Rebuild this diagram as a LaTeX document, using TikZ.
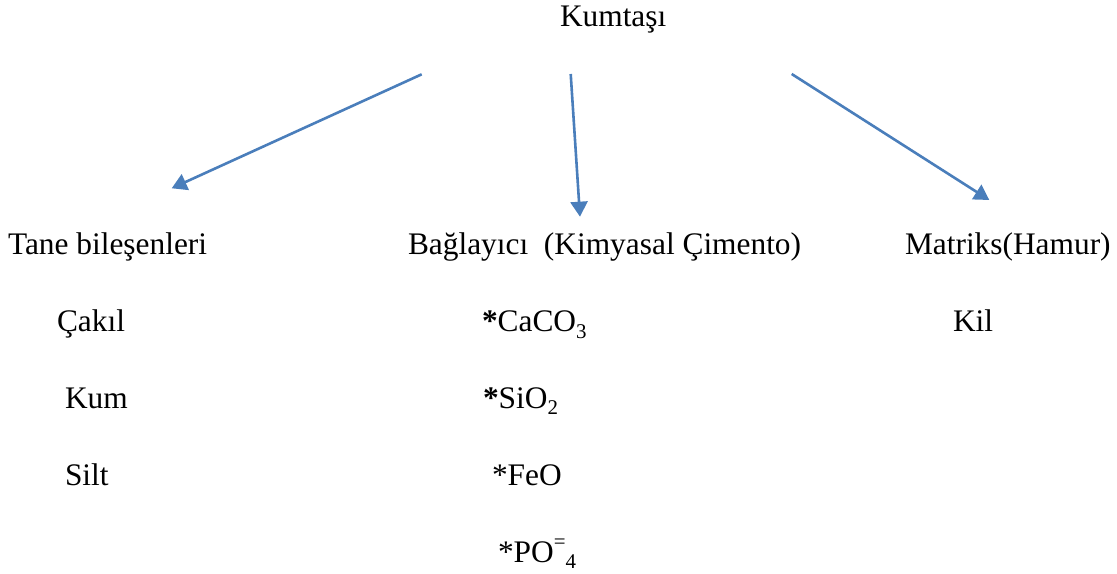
\documentclass[tikz,border=0pt]{standalone}
\usepackage{fontspec}
\setmainfont{Liberation Serif}
\usetikzlibrary{arrows.meta}
\definecolor{arrowblue}{HTML}{4A7EBB}
\newcommand{\subs}[1]{\raisebox{-0.22em}{\fontsize{21}{21}\selectfont #1}}
\newcommand{\sups}[1]{\raisebox{0.42em}{\fontsize{21}{21}\selectfont #1}}
\tikzset{
  lbl/.style={anchor=base west, inner sep=0pt, outer sep=0pt, font=\fontsize{31.5}{36}\selectfont},
  arr/.style={draw=arrowblue, line width=2.6bp, -{Triangle[width=17bp,length=15bp]}, arrowblue}
}
\begin{document}
\begin{tikzpicture}[x=1bp,y=-1bp]
\useasboundingbox (0,0) rectangle (1117,574);
\node[lbl] (top) at (560,27) {Kumtaşı};
\node[lbl] (tane) at (8,255) {Tane bileşenleri};
\node[lbl] (bag) at (408,255) {Bağlayıcı\ \ (Kimyasal Çimento)};
\node[lbl] (mat) at (905,255) {Matriks(Hamur)};
\node[lbl] (cakil) at (57,332) {Çakıl};
\node[lbl] (kum) at (65,408) {Kum};
\node[lbl] (silt) at (65,485) {Silt};
\node[lbl] (kil) at (953,332) {Kil};
\node[lbl] (caco) at (482,332) {\textbf{*}CaCO\subs{3}};
\node[lbl] (sio) at (483,408) {\textbf{*}SiO\subs{2}};
\node[lbl] (feo) at (492,485) {*FeO};
\node[lbl] (po) at (498,562) {*PO\sups{=}\subs{4}};
\coordinate (s1) at (421.7,74.3);
\coordinate (e1) at (171.7,188.3);
\coordinate (s2) at (570.7,74);
\coordinate (e2) at (580,216.7);
\coordinate (s3) at (791.7,74);
\coordinate (e3) at (989.3,200);
\draw[arr] (s1) -- (e1);
\draw[arr] (s2) -- (e2);
\draw[arr] (s3) -- (e3);
\end{tikzpicture}
\end{document}
